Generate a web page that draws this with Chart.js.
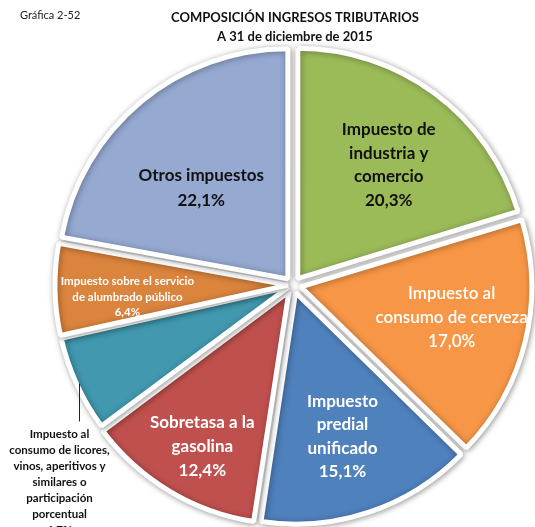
<!DOCTYPE html>
<html>
<head>
<meta charset="utf-8">
<script src="https://cdn.jsdelivr.net/npm/chart.js@4/dist/chart.umd.min.js"></script>
<style>
  html, body { margin: 0; padding: 0; background: #fff; }
  #wrap { width: 535px; height: 527px; position: relative; }
</style>
</head>
<body>
<div id="wrap"><canvas id="myChart"></canvas></div>
<script>
var categories = [
  'Impuesto de industria y comercio',
  'Impuesto al consumo de cerveza',
  'Impuesto predial unificado',
  'Sobretasa a la gasolina',
  'Impuesto al consumo de licores, vinos, aperitivos y similares o participación porcentual',
  'Impuesto sobre el servicio de alumbrado público',
  'Otros impuestos'
];
var shares = [20.3, 17.0, 15.1, 12.4, 6.7, 6.4, 22.1];
var sliceColors = ['#9BBB59', '#F79646', '#4F81BD', '#C0504D', '#4198AF', '#DB843D', '#95A9D1'];

// label text lines for each slice (the value line is added from shares)
var labelLines = [
  ['Impuesto de', 'industria y', 'comercio'],
  ['Impuesto al', 'consumo de cerveza'],
  ['Impuesto', 'predial', 'unificado'],
  ['Sobretasa a la', 'gasolina'],
  ['Impuesto al', 'consumo de licores,', 'vinos, aperitivos y', 'similares o', 'participación', 'porcentual'],
  ['Impuesto sobre el servicio', 'de alumbrado público'],
  ['Otros impuestos']
];

function pct(v) {
  return v.toFixed(1).replace('.', ',') + '%';
}

// per-slice label look: radial position, small nudge, font, colour
var labelStyle = [
  { r: 0.67, dx: 4, dy: 4, font: 'bold 17px Lato', color: '#111', lh: 23.5 },
  { r: 0.71, dx: 0, dy: -6, font: '600 17px Lato', color: '#fff', lh: 24 },
  { r: 0.69, dx: -1, dy: 1, font: 'bold 17px Lato', color: '#fff', lh: 23.5 },
  { r: 0.80, dx: 4, dy: 4, font: 'bold 17px Lato', color: '#fff', lh: 24 },
  { outside: true, dx: 0, dy: 3, font: 'bold 11.5px Lato', color: '#111', lh: 16 },
  { r: 0.72, dx: 0, dy: 9, font: 'bold 11.5px Lato', color: '#fff', lh: 15.5 },
  { r: 0.61, dx: -2, dy: 11, font: 'bold 17px Lato', color: '#111', lh: 25 }
];

var sliceLabels = {
  id: 'sliceLabels',
  beforeDatasetsDraw: function (chart) {
    var ctx = chart.ctx;
    ctx.save();
    ctx.shadowColor = 'rgba(0,0,0,0.35)';
    ctx.shadowBlur = 6;
    ctx.shadowOffsetX = 1;
    ctx.shadowOffsetY = 1;
  },
  afterDatasetsDraw: function (chart) {
    var ctx = chart.ctx;
    ctx.restore();
    var arcs = chart.getDatasetMeta(0).data;
    ctx.save();
    ctx.textAlign = 'center';
    ctx.textBaseline = 'middle';
    for (var i = 0; i < arcs.length; i++) {
      var a = arcs[i];
      var st = labelStyle[i];
      var mid = (a.startAngle + a.endAngle) / 2;
      var lines = labelLines[i].concat([pct(shares[i])]);
      ctx.font = st.font;
      ctx.fillStyle = st.color;
      if (st.outside) {
        // leader line straight down from the slice edge, text block below
        var ex = a.x + Math.cos(mid) * (a.outerRadius + 6);
        var ey = a.y + Math.sin(mid) * (a.outerRadius + 6);
        ctx.strokeStyle = '#222';
        ctx.lineWidth = 1;
        ctx.beginPath();
        ctx.moveTo(Math.round(ex) + 0.5, ey);
        ctx.lineTo(Math.round(ex) + 0.5, ey + 38);
        ctx.stroke();
        var tx = ex - 19 + st.dx;
        var ty = ey + 48 + st.dy;
        for (var k = 0; k < lines.length; k++) {
          ctx.fillText(lines[k], tx, ty + k * st.lh);
        }
        continue;
      }
      var rr = a.outerRadius * st.r;
      var cx = a.x + Math.cos(mid) * rr + st.dx;
      var cy = a.y + Math.sin(mid) * rr + st.dy;
      var y0 = cy - (lines.length - 1) * st.lh / 2;
      for (var j = 0; j < lines.length; j++) {
        ctx.fillText(lines[j], cx, y0 + j * st.lh);
      }
    }
    ctx.restore();

    // headings
    ctx.save();
    ctx.fillStyle = '#222';
    ctx.textBaseline = 'middle';
    ctx.font = '11px Lato';
    ctx.textAlign = 'left';
    ctx.fillText('Gráfica 2-52', 20, 15);
    ctx.textAlign = 'center';
    ctx.font = 'bold 13px Lato';
    ctx.fillStyle = '#111';
    ctx.fillText('COMPOSICIÓN INGRESOS TRIBUTARIOS', 295, 18);
    ctx.fillText('A 31 de diciembre de 2015', 295, 37);
    ctx.restore();
  }
};

var ctx = document.getElementById('myChart').getContext('2d');
var myPie = new Chart(ctx, {
  type: 'pie',
  data: {
    labels: categories,
    datasets: [{
      data: shares,
      backgroundColor: sliceColors,
      borderColor: '#ffffff',
      borderWidth: 5,
      // the two thin slices get pushed further by Chart.js, so less offset there
      offset: [32, 32, 32, 32, 20, 20, 32],
      radius: 230
    }]
  },
  options: {
    responsive: true,
    maintainAspectRatio: false,
    animation: false,
    layout: { padding: { left: 51, right: 0, top: 43, bottom: 0 } },
    plugins: {
      legend: { display: false },
      title: { display: false },
      tooltip: { enabled: false }
    }
  },
  plugins: [sliceLabels]
});
</script>
</body>
</html>
